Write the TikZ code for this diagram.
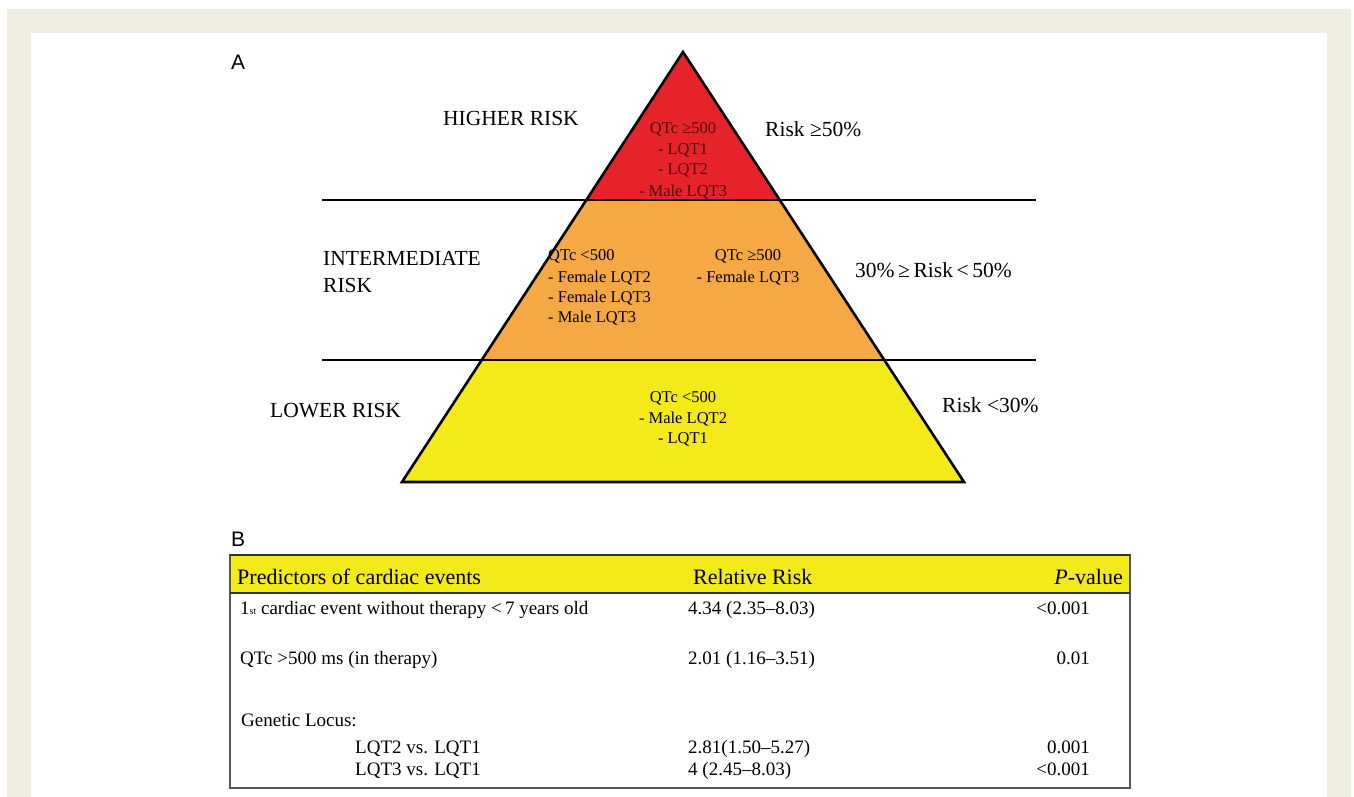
\documentclass[tikz,border=0pt]{standalone}
\usepackage{fontspec}
\setmainfont{Liberation Serif}
\newfontfamily\labsans{Liberation Sans}
\usetikzlibrary{calc}
\definecolor{framebeige}{HTML}{EFECE2}
\definecolor{pyrred}{HTML}{E6222A}
\definecolor{pyrorange}{HTML}{F5A843}
\definecolor{pyryellow}{HTML}{F4E919}
\definecolor{hdryellow}{HTML}{F3EA1A}
\definecolor{redtext}{HTML}{4A0C0C}
\definecolor{tablegrey}{HTML}{555555}
\tikzset{
  panel/.style={font=\labsans\fontsize{21}{24}\selectfont, anchor=base west, inner sep=0},
  side/.style={font=\fontsize{21.5}{24}\selectfont, anchor=base west, inner sep=0},
  inner/.style={font=\fontsize{16.5}{20}\selectfont, anchor=base, inner sep=0},
  innerw/.style={font=\fontsize{16.5}{20}\selectfont, anchor=base west, inner sep=0},
  hdr/.style={font=\fontsize{22}{24}\selectfont, anchor=base west, inner sep=0},
  cell/.style={font=\fontsize{19}{22}\selectfont, anchor=base west, inner sep=0},
  cellr/.style={font=\fontsize{19}{22}\selectfont, anchor=base east, inner sep=0},
  divider/.style={line width=2.6pt, black},
}
\begin{document}
\begin{tikzpicture}[x=1pt,y=-1pt]
\useasboundingbox (0,0) rectangle (1354,797);
% frame
\fill[white] (0,0) rectangle (1354,797);
\fill[framebeige] (7,9) rectangle (1351,797);
\fill[white] (31,33) rectangle (1327,797);

% pyramid geometry
\coordinate (apex) at (683,52);
\coordinate (bl) at (402,482);
\coordinate (br) at (964,482);
\coordinate (l1) at ($(apex)!148/430!(bl)$);
\coordinate (r1) at ($(apex)!148/430!(br)$);
\coordinate (l2) at ($(apex)!308/430!(bl)$);
\coordinate (r2) at ($(apex)!308/430!(br)$);

\fill[pyrred] (apex) -- (r1) -- (l1) -- cycle;
\fill[pyrorange] (l1) -- (r1) -- (r2) -- (l2) -- cycle;
\fill[pyryellow] (l2) -- (r2) -- (br) -- (bl) -- cycle;
\draw[divider, line join=miter] (apex) -- (br) -- (bl) -- cycle;
\coordinate (h1a) at (322,200);
\coordinate (h1b) at (1036,200);
\coordinate (h2a) at (322,360);
\coordinate (h2b) at (1036,360);
\draw[divider] (h1a) -- (h1b);
\draw[divider] (h2a) -- (h2b);

% panel labels
\node[panel] (labA) at (231,70) {A};
\node[panel] (labB) at (231,546) {B};

% side labels
\node[side] (hr) at (443,126) {HIGHER RISK};
\node[side] (ir1) at (323,265) {INTERMEDIATE};
\node[side] (ir2) at (323,292) {RISK};
\node[side] (lr) at (270,417) {LOWER RISK};
\node[side] (rk1) at (765,137) {Risk ≥50\%};
\node[side] (rk2) at (855,277) {30\%\,≥\,Risk\,<\,50\%};
\node[side] (rk3) at (942,412) {Risk <30\%};

% red tier text
\begin{scope}[every node/.append style={text=redtext}]
\node[inner] (r1t) at (683,133) {QTc ≥500};
\node[inner] (r2t) at (683,154) {- LQT1};
\node[inner] (r3t) at (683,175) {- LQT2};
\node[inner] (r4t) at (683,196) {- Male LQT3};
\end{scope}

% orange tier text
\node[innerw] (o1t) at (548,260) {QTc <500};
\node[innerw] (o2t) at (548,282) {- Female LQT2};
\node[innerw] (o3t) at (548,302) {- Female LQT3};
\node[innerw] (o4t) at (548,322) {- Male LQT3};
\node[inner] (o5t) at (748,260) {QTc ≥500};
\node[inner] (o6t) at (748,282) {- Female LQT3};

% yellow tier text
\node[inner] (y1t) at (683,402) {QTc <500};
\node[inner] (y2t) at (683,423) {- Male LQT2};
\node[inner] (y3t) at (683,443) {- LQT1};

% table
\fill[hdryellow] (230,555) rectangle (1130,593);
\draw[tablegrey, line width=1.4pt] (230,555) rectangle (1130,788);
\draw[black!80, line width=1.8pt] (230,593) -- (1130,593);
\draw[black!80, line width=1.6pt] (230,555) -- (1130,555);

\node[hdr] (h1) at (237,584) {Predictors of cardiac events};
\node[hdr] (h2) at (693,584) {Relative Risk};
\node[hdr, anchor=base east] (h3) at (1123,584) {\textit{P}-value};

\node[cell] (c11) at (240,614) {1{\fontsize{10}{10}\selectfont st} cardiac event without therapy <\,7 years old};
\node[cell] (c12) at (688,614) {4.34 (2.35–8.03)};
\node[cellr] (c13) at (1090,614) {<0.001};

\node[cell] (c21) at (240,664) {QTc >500 ms (in therapy)};
\node[cell] (c22) at (688,664) {2.01 (1.16–3.51)};
\node[cellr] (c23) at (1090,664) {0.01};

\node[cell] (c31) at (241,726) {Genetic Locus:};

\node[cell] (c41) at (355,753) {LQT2 vs. LQT1};
\node[cell] (c42) at (688,753) {2.81(1.50–5.27)};
\node[cellr] (c43) at (1090,753) {0.001};

\node[cell] (c51) at (355,775) {LQT3 vs. LQT1};
\node[cell] (c52) at (688,775) {4 (2.45–8.03)};
\node[cellr] (c53) at (1090,775) {<0.001};
\end{tikzpicture}
\end{document}
